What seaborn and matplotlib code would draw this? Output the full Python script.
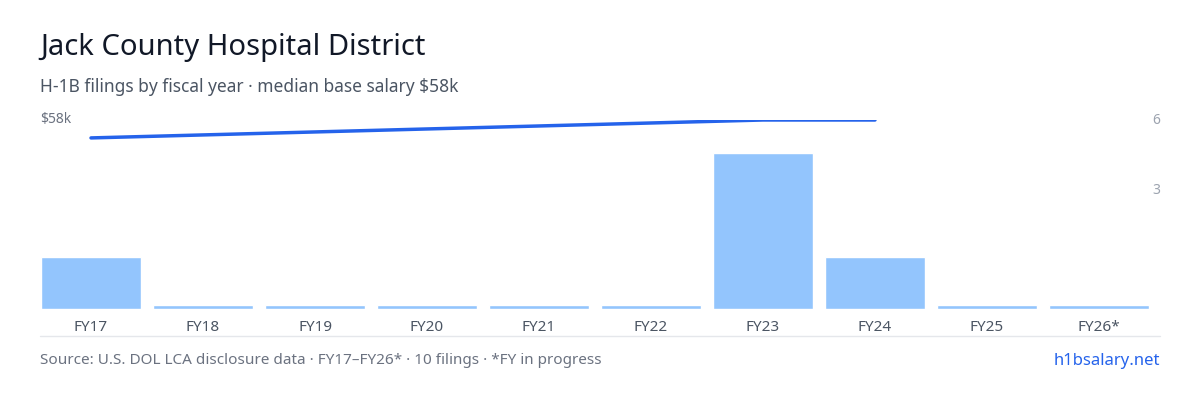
import matplotlib
matplotlib.use("Agg")
import matplotlib.pyplot as plt
import seaborn as sns
import numpy as np

years = ["FY17","FY18","FY19","FY20","FY21","FY22","FY23","FY24","FY25","FY26*"]
filings = [2,0,0,0,0,0,6,2,0,0]
salary_years = ["FY17","FY23","FY24"]
salary_k = [52.5,58,58]

sns.set_theme(style="white")
plt.rcParams['font.family'] = ['Noto Sans','DejaVu Sans']

fig = plt.figure(figsize=(12,4), dpi=100)
ax = fig.add_axes([35/1200, 1-309/400, 1120/1200, 189/400])
disp = [v if v > 0 else 0.15 for v in filings]
sns.barplot(x=years, y=disp, color="#93c5fd", width=0.9, ax=ax, saturation=1)
ax.set_ylim(0, 189/26)
ax.set_xlim(-0.5, 9.5)
ax.set_yticks([])
ax.set_ylabel("")
for s in ax.spines.values():
    s.set_visible(False)
ax.tick_params(axis='x', length=0, pad=8, labelsize=11, labelcolor="#4b5563")

ax2 = ax.twinx()
xi = [years.index(y) for y in salary_years]
sns.lineplot(x=xi, y=salary_k, color="#2563eb", lw=2.5, ax=ax2)
ax2.set_ylim(0, 58)
ax2.set_yticks([])
for s in ax2.spines.values():
    s.set_visible(False)

fig.text(40/1200, 1-120/400, "$58k", fontsize=10, color="#6b7280", va="center")
fig.text(1160/1200, 1-120/400, "6", fontsize=10, color="#9ca3af", va="center", ha="right")
fig.text(1160/1200, 1-190/400, "3", fontsize=10, color="#9ca3af", va="center", ha="right")
fig.text(40/1200, 1-47/400, "Jack County Hospital District", fontsize=21, color="#111827", va="center")
fig.text(40/1200, 1-87/400, "H-1B filings by fiscal year · median base salary $58k", fontsize=12.5, color="#4b5563", va="center")
fig.add_artist(plt.Line2D([40/1200, 1160/1200], [1-336/400]*2, color="#e5e7eb", lw=1))
fig.text(40/1200, 1-361/400, "Source: U.S. DOL LCA disclosure data · FY17–FY26* · 10 filings · *FY in progress", fontsize=11, color="#6b7280", va="center")
fig.text(1160/1200, 1-361/400, "h1bsalary.net", fontsize=12, color="#2563eb", va="center", ha="right")
fig.savefig("out.png", dpi=100)
